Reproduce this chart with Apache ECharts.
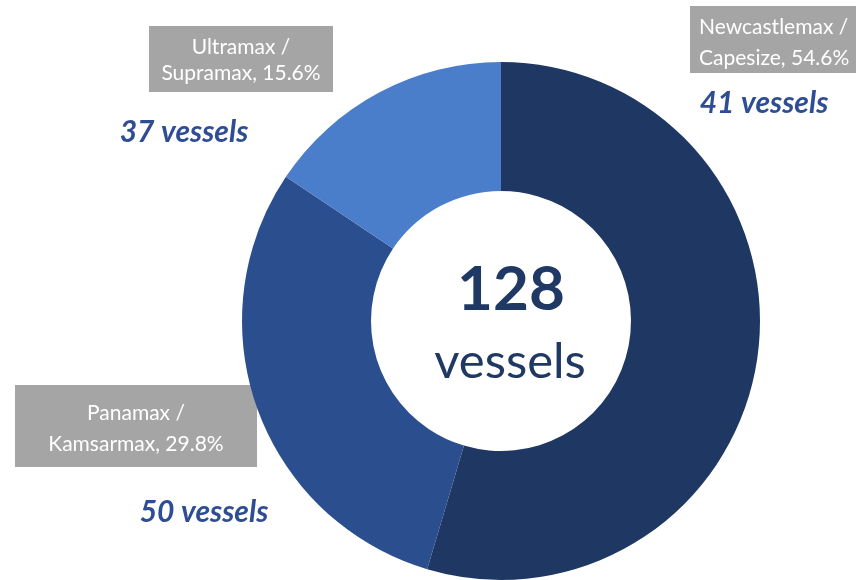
<!DOCTYPE html>
<html>
<head>
<meta charset="utf-8">
<script src="https://cdn.jsdelivr.net/npm/echarts@6/dist/echarts.min.js"></script>
<style>
  html, body { margin: 0; padding: 0; background: #fff; }
  #main { width: 856px; height: 580px; }
</style>
</head>
<body>
<div id="main"></div>
<script>
var segments = ['Newcastlemax / Capesize', 'Panamax / Kamsarmax', 'Ultramax / Supramax'];
var shares = [54.6, 29.8, 15.6];
var vessels = [41, 50, 37];
var totalVessels = 128;
var colors = ['#1F3763', '#2B4F8E', '#4A7ECB'];

var font = 'Lato, "Open Sans", sans-serif';

// label boxes placed like the original slide
var boxes = [
  { x: 690, y: 6, w: 172, h: 67, tx: 699, align: 'left', l1: 27, l2: 58, vx: 764, vy: 103 },
  { x: 15, y: 385, w: 242, h: 82, tx: 136, align: 'center', l1: 413, l2: 444, vx: 204, vy: 512 },
  { x: 149, y: 26, w: 184, h: 66, tx: 241, align: 'center', l1: 47, l2: 73, vx: 184, vy: 132 }
];

var chart = echarts.init(document.getElementById('main'));

var graphics = [
  {
    type: 'text',
    style: { x: 511, y: 290, text: String(totalVessels), fill: '#1F3864', font: 'bold 62px ' + font, textAlign: 'center', textVerticalAlign: 'middle' }
  },
  {
    type: 'text',
    style: { x: 510, y: 362, text: 'vessels', fill: '#1F3864', font: '49px ' + font, textAlign: 'center', textVerticalAlign: 'middle' }
  }
];

segments.forEach(function (name, i) {
  var b = boxes[i];
  var parts = name.split(' / ');
  graphics.push({
    type: 'rect',
    shape: { x: b.x, y: b.y, width: b.w, height: b.h },
    style: { fill: '#A5A5A5' }
  });
  graphics.push({
    type: 'text',
    style: { x: b.tx, y: b.l1, text: parts[0] + ' /', fill: '#fff', font: '21px ' + font, textAlign: b.align, textVerticalAlign: 'middle' }
  });
  graphics.push({
    type: 'text',
    style: { x: b.tx, y: b.l2, text: parts[1] + ', ' + shares[i].toFixed(1) + '%', fill: '#fff', font: '21px ' + font, textAlign: b.align, textVerticalAlign: 'middle' }
  });
  graphics.push({
    type: 'text',
    style: { x: b.vx, y: b.vy, text: vessels[i] + ' vessels', fill: '#2F4D94', font: 'italic bold 30px ' + font, textAlign: 'center', textVerticalAlign: 'middle' }
  });
});

chart.setOption({
  animation: false,
  color: colors,
  series: [
    {
      type: 'pie',
      center: [501, 321],
      radius: [130, 259],
      startAngle: 90,
      clockwise: true,
      silent: true,
      label: { show: false },
      labelLine: { show: false },
      itemStyle: { borderWidth: 0 },
      data: segments.map(function (s, i) {
        return { name: s, value: shares[i] };
      })
    }
  ],
  graphic: graphics
});
</script>
</body>
</html>
